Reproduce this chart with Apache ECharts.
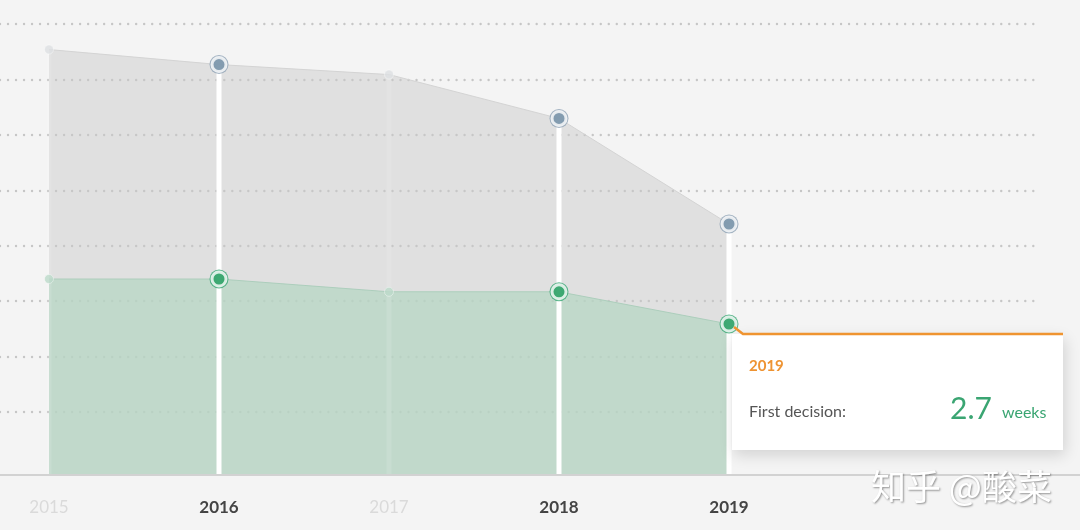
<!DOCTYPE html>
<html>
<head>
<meta charset="utf-8">
<script src="https://cdn.jsdelivr.net/npm/echarts@6/dist/echarts.min.js"></script>
<style>
    html, body { margin: 0; padding: 0; background: #f4f4f4; }
    #main { width: 1080px; height: 530px; }
</style>
</head>
<body>
<div id="main"></div>
<script>
// years on the x axis, and the ones shown as "active"
const years = ['2015', '2016', '2017', '2018', '2019'];
const highlighted = ['2016', '2018', '2019'];

// weeks
const totalWeeks = [7.64, 7.37, 7.19, 6.40, 4.50];
const firstDecisionWeeks = [3.51, 3.51, 3.28, 3.28, 2.70];

// the tooltip that is pinned open
const tipIndex = 4;
const tipLabel = 'First decision:';
const tipUnit = 'weeks';

(function () {
    "use strict";

    const isOn = y => highlighted.indexOf(y) > -1;
    let myChart = echarts.init(document.getElementById('main'));

    function markerSeries(name, values, ring, fill, faded) {
        return [
            {
                name: name + ' ring',
                type: 'scatter',
                silent: true,
                z: 5,
                symbolSize: 19,
                itemStyle: { color: ring },
                data: values.map((v, i) => isOn(years[i]) ? v : '-')
            },
            {
                name: name + ' dot',
                type: 'scatter',
                silent: true,
                z: 6,
                data: values.map((v, i) => isOn(years[i]) ? {
                    value: v,
                    symbolSize: 14,
                    itemStyle: { color: fill, borderColor: '#fff', borderWidth: 3 }
                } : {
                    value: v,
                    symbolSize: 9,
                    itemStyle: { color: faded, borderColor: 'rgba(255,255,255,0.5)', borderWidth: 1 }
                })
            }
        ];
    }

    let option = {
        backgroundColor: '#f4f4f4',
        animation: false,
        grid: [
            { left: 49, right: 351, top: 24, bottom: 56 },   // data
            { left: 0, right: 40, top: 24, height: 388 },    // dotted lines
            { left: 0, right: 0, top: 24, bottom: 55 }       // base line
        ],
        xAxis: [
            {
                type: 'category',
                gridIndex: 0,
                boundaryGap: false,
                data: years.map(y => ({
                    value: y,
                    textStyle: isOn(y) ? { color: '#444', fontWeight: 'bold' } : { color: '#dadada', fontWeight: 'normal' }
                })),
                axisLine: { show: false },
                axisTick: { show: false },
                splitLine: { show: false },
                axisLabel: { fontSize: 17, fontFamily: 'Lato', margin: 25 }
            },
            { type: 'value', gridIndex: 1, show: false, min: 0, max: 1 },
            {
                type: 'value', gridIndex: 2, min: 0, max: 1,
                axisLine: { show: true, lineStyle: { color: '#d2d2d2', width: 2 } },
                axisTick: { show: false },
                axisLabel: { show: false },
                splitLine: { show: false }
            }
        ],
        yAxis: [
            { type: 'value', gridIndex: 0, min: 0, max: 8.1, show: false },
            {
                type: 'value', gridIndex: 1, min: 1, max: 8, interval: 1,
                axisLine: { show: false },
                axisTick: { show: false },
                axisLabel: { show: false },
                splitLine: { show: true, lineStyle: { color: '#c6c6c6', width: 2.4, type: [0.01, 8], cap: 'round' } }
            },
            { type: 'value', gridIndex: 2, min: 0, max: 1, show: false }
        ],
        series: [
            {
                name: 'Total',
                type: 'line',
                silent: true,
                z: 2,
                showSymbol: false,
                lineStyle: { color: '#d4d4d4', width: 1 },
                areaStyle: { color: 'rgba(200,200,200,0.46)', opacity: 1 },
                data: totalWeeks
            },
            {
                name: 'First decision',
                type: 'line',
                silent: true,
                z: 3,
                showSymbol: false,
                lineStyle: { color: 'rgba(168,204,185,0.9)', width: 1 },
                areaStyle: { color: 'rgba(180,213,194,0.7)', opacity: 1 },
                data: firstDecisionWeeks
            },
            {
                name: 'stems',
                type: 'bar',
                silent: true,
                z: 4,
                barWidth: 5,
                itemStyle: { color: '#fff' },
                data: totalWeeks.map((v, i) => ({ value: v, itemStyle: { opacity: isOn(years[i]) ? 1 : 0.12 } }))
            }
        ].concat(
            markerSeries('Total', totalWeeks, '#8ea3b5', '#7a96ab', '#dde0e2'),
            markerSeries('First decision', firstDecisionWeeks, '#3aa874', '#36a56c', '#bcd9c9')
        )
    };
    myChart.setOption(option);

    // pinned tooltip, anchored on the 2019 point
    let p = myChart.convertToPixel({ gridIndex: 0 }, [tipIndex, firstDecisionWeeks[tipIndex]]);
    let px = p[0], py = p[1];
    myChart.setOption({
        graphic: [
            {
                type: 'rect', z: 100,
                shape: { x: px + 3, y: py + 10, width: 331, height: 116 },
                style: { fill: '#fff', shadowBlur: 14, shadowColor: 'rgba(0,0,0,0.14)', shadowOffsetX: 2, shadowOffsetY: 5 }
            },
            {
                type: 'polyline', z: 101,
                shape: { points: [[px + 5, py + 3], [px + 14, py + 10], [px + 334, py + 10]] },
                style: { stroke: '#ef9430', lineWidth: 2.5, fill: null }
            },
            {
                type: 'text', z: 102, x: px + 20, y: py + 42,
                style: { text: years[tipIndex], fill: '#ee9332', font: 'bold 15px Lato', textVerticalAlign: 'middle' }
            },
            {
                type: 'text', z: 102, x: px + 20, y: py + 88,
                style: { text: tipLabel, fill: '#555', font: '16px Lato', textVerticalAlign: 'middle' }
            },
            {
                type: 'text', z: 102, x: px + 263, y: py + 85,
                style: { text: String(firstDecisionWeeks[tipIndex].toFixed(1)), fill: '#3aa572', font: '30px Lato', textAlign: 'right', textVerticalAlign: 'middle' }
            },
            {
                type: 'text', z: 102, x: px + 273, y: py + 89,
                style: { text: tipUnit, fill: '#3aa572', font: '16px Lato', textVerticalAlign: 'middle' }
            },
            {
                type: 'text', z: 110, x: 871, y: 487,
                style: {
                    text: '知乎 @酸菜', fill: '#fff', font: '35px "Noto Sans CJK SC"', textVerticalAlign: 'middle',
                    textShadowColor: 'rgba(0,0,0,0.4)', textShadowBlur: 2, textShadowOffsetX: 1, textShadowOffsetY: 1
                }
            }
        ]
    });

    window.addEventListener('resize', () => {
        myChart.resize();
    });
})();
</script>
</body>
</html>
